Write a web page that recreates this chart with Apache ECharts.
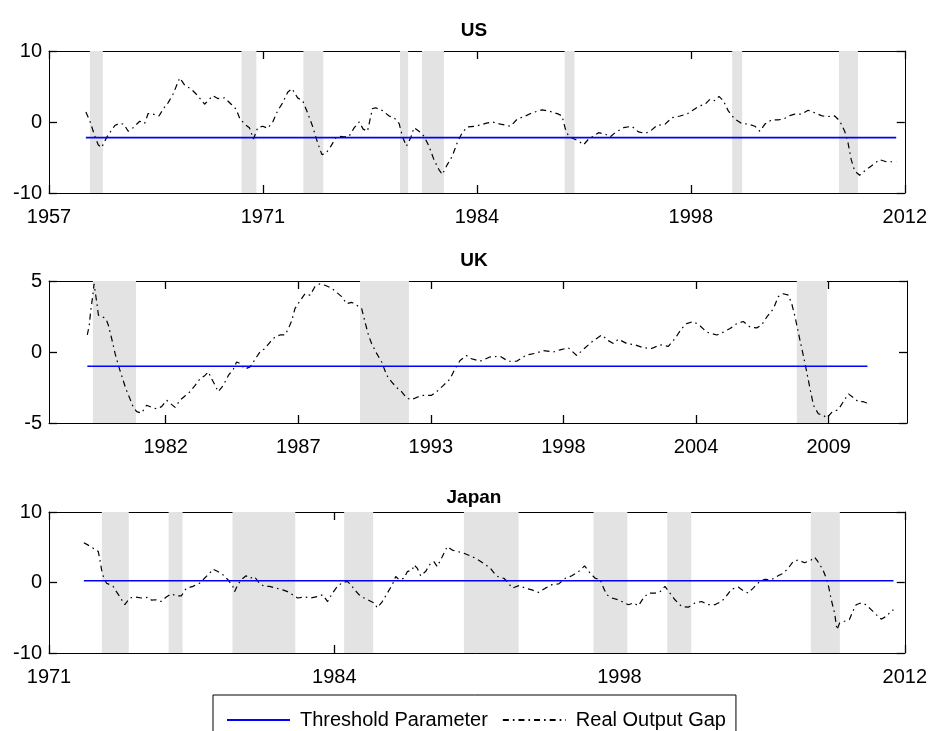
<!DOCTYPE html>
<html>
<head>
<meta charset="utf-8">
<script src="https://cdn.jsdelivr.net/npm/echarts@6/dist/echarts.min.js"></script>
<style>
  html, body { margin: 0; padding: 0; background: #fff; }
  #chart { width: 930px; height: 731px; }
</style>
</head>
<body>
<div id="chart"></div>
<script>
// ---- US ----
const usYears = [1959.37,1959.63,1959.95,1960.16,1960.38,1960.70,1960.91,1961.23,1961.51,1961.81,
  1962.09,1962.41,1962.83,1963.15,1963.37,1963.69,1964.07,1964.33,1964.65,1964.97,
  1965.40,1965.72,1966.15,1966.57,1967.00,1967.21,1967.53,1967.85,1968.28,1968.71,
  1969.03,1969.24,1969.56,1969.88,1970.14,1970.42,1970.74,1971.06,1971.38,1971.70,
  1972.02,1972.34,1972.62,1972.98,1973.30,1973.62,1973.94,1974.26,1974.54,1974.80,
  1975.12,1975.44,1975.65,1975.97,1976.29,1976.62,1976.94,1977.19,1977.47,1977.79,
  1978.00,1978.43,1978.86,1979.18,1979.50,1979.71,1979.97,1980.25,1980.46,1980.78,
  1981.10,1981.42,1981.74,1982.06,1982.28,1982.60,1982.92,1983.24,1983.56,1983.88,
  1984.42,1985.06,1985.49,1986.02,1986.66,1987.09,1987.62,1988.05,1988.69,1989.12,
  1989.76,1989.97,1990.19,1990.40,1990.72,1991.04,1991.36,1991.68,1992.00,1992.32,
  1992.75,1993.07,1993.39,1993.93,1994.46,1994.89,1995.32,1995.64,1996.06,1996.60,
  1997.03,1997.56,1997.99,1998.31,1998.74,1999.16,1999.48,1999.80,2000.06,2000.34,
  2000.66,2001.08,2001.51,2001.94,2002.37,2002.69,2003.01,2003.44,2003.86,2004.18,
  2004.61,2004.93,2005.36,2005.79,2006.32,2006.64,2006.96,2007.50,2007.82,2008.14,
  2008.35,2008.56,2008.78,2009.10,2009.42,2009.85,2010.38,2010.81,2011.45];
const usGap = [1.4,0.1,-2.0,-3.2,-3.6,-2.2,-1.5,-0.5,-0.2,-0.3,
  -1.3,-0.8,0.1,-0.2,1.2,1.1,0.85,1.8,2.7,3.9,
  6.2,5.2,4.6,3.7,2.5,3.0,3.7,3.3,3.4,2.5,
  1.8,0.6,-0.3,-0.8,-2.4,-0.8,-0.6,-0.9,0.0,1.6,
  2.7,4.2,4.7,3.4,3.0,1.3,-0.6,-2.9,-4.6,-4.4,
  -3.4,-2.2,-2.0,-2.1,-2.0,-0.8,0.0,-1.0,-1.3,1.9,
  2.0,1.6,0.85,0.6,-0.2,-2.0,-3.4,-2.2,-0.8,-1.3,
  -2.0,-3.4,-5.3,-6.7,-7.4,-6.0,-4.8,-2.9,-1.5,-0.7,
  -0.6,-0.2,0.0,-0.3,-0.6,0.4,0.85,1.3,1.7,1.55,
  1.1,0.85,-1.0,-2.0,-2.35,-2.7,-3.2,-2.4,-2.0,-1.5,
  -1.7,-2.1,-1.5,-0.8,-0.6,-1.4,-1.6,-1.3,-0.5,-0.3,
  0.6,0.85,1.1,1.55,2.2,2.5,3.2,3.0,3.6,3.0,
  1.55,0.4,-0.2,-0.3,-0.6,-1.3,-0.3,0.3,0.3,0.4,
  0.9,1.1,1.1,1.65,1.2,0.9,0.75,0.85,0.15,-1.3,
  -2.9,-5.3,-6.9,-7.5,-6.9,-6.2,-5.3,-5.6,-5.6];
const usThreshold = -2.2;
const usRecessions = [[1959.63,1960.46],[1969.37,1970.33],[1973.35,1974.63],[1979.56,1980.08],
  [1980.97,1982.38],[1990.14,1990.78],[2000.91,2001.55],[2007.77,2008.99]];
const usTickYears = [1957, 1970.75, 1984.5, 1998.25, 2012];
const usTickLabels = ['1957', '1971', '1984', '1998', '2012'];

// ---- UK ----
const ukYears = [1978.59,1978.67,1978.73,1978.81,1978.87,1978.98,1979.05,1979.18,1979.36,1979.46,
  1979.60,1979.74,1979.88,1980.01,1980.19,1980.36,1980.50,1980.64,1980.84,1981.05,
  1981.26,1981.47,1981.67,1981.88,1982.02,1982.23,1982.43,1982.64,1982.85,1983.06,
  1983.26,1983.47,1983.61,1983.75,1983.89,1984.02,1984.23,1984.44,1984.65,1984.78,
  1984.92,1985.13,1985.34,1985.48,1985.61,1985.75,1985.96,1986.17,1986.37,1986.58,
  1986.79,1986.93,1987.07,1987.20,1987.41,1987.62,1987.83,1988.03,1988.24,1988.45,
  1988.72,1988.93,1989.14,1989.35,1989.55,1989.76,1989.97,1990.11,1990.25,1990.38,
  1990.59,1990.80,1991.01,1991.21,1991.42,1991.63,1991.84,1992.04,1992.25,1992.53,
  1992.87,1993.08,1993.36,1993.63,1993.84,1994.05,1994.32,1994.47,1994.88,1995.29,
  1995.71,1996.05,1996.40,1996.82,1997.16,1997.51,1997.92,1998.20,1998.54,1998.89,
  1999.24,1999.58,1999.93,2000.20,2000.41,2000.62,2000.96,2001.31,2001.65,2002.00,
  2002.35,2002.69,2002.97,2003.24,2003.45,2003.73,2004.00,2004.28,2004.70,2004.97,
  2005.25,2005.53,2005.80,2006.08,2006.36,2006.56,2006.77,2007.05,2007.25,2007.46,
  2007.67,2007.81,2007.95,2008.08,2008.18,2008.29,2008.43,2008.57,2008.71,2008.91,
  2009.12,2009.26,2009.47,2009.74,2009.95,2010.16,2010.36,2010.57,2010.78,2010.95];
const ukGap = [1.2,1.9,2.9,3.9,4.8,3.5,2.6,2.5,2.35,1.9,
  0.95,-0.1,-0.95,-1.65,-2.6,-3.3,-3.9,-4.2,-4.3,-3.75,
  -3.9,-4.0,-3.85,-3.4,-3.6,-3.9,-3.4,-3.1,-2.8,-2.35,
  -1.9,-1.65,-1.4,-1.9,-2.35,-2.8,-2.35,-1.65,-1.2,-0.7,
  -0.8,-1.2,-1.05,-0.7,-0.35,0.0,0.25,0.7,1.05,1.2,
  1.2,1.65,2.2,3.05,3.6,4.1,4.0,4.6,4.8,4.7,
  4.5,4.2,3.9,3.4,3.5,3.3,3.05,2.1,1.2,0.6,
  -0.1,-0.7,-1.65,-2.1,-2.5,-2.8,-3.25,-3.35,-3.2,-3.05,
  -3.05,-2.8,-2.35,-1.9,-1.2,-0.6,-0.25,-0.45,-0.65,-0.35,
  -0.3,-0.65,-0.65,-0.2,-0.1,0.1,0.0,0.15,0.3,-0.25,
  0.3,0.8,1.2,0.8,0.6,0.9,0.6,0.5,0.3,0.25,
  0.5,0.4,0.95,1.65,2.0,2.15,1.85,1.4,1.2,1.4,
  1.65,2.0,2.15,1.75,1.7,1.9,2.45,3.05,3.9,4.1,
  4.0,3.4,2.45,1.4,0.6,-0.25,-1.4,-2.6,-3.75,-4.35,
  -4.45,-4.65,-4.25,-4.05,-3.5,-2.95,-3.2,-3.5,-3.5,-3.6];
const ukThreshold = -1.0;
const ukRecessions = [[1978.82,1980.61],[1989.90,1991.93],[2008.02,2009.27]];
const ukTickYears = [1981.84, 1987.34, 1992.84, 1998.34, 2003.84, 2009.34];
const ukTickLabels = ['1982', '1987', '1993', '1998', '2004', '2009'];

// ---- Japan ----
const jpYears = [1972.67,1972.88,1973.12,1973.36,1973.44,1973.52,1973.63,1973.76,1973.91,1974.07,
  1974.23,1974.39,1974.63,1974.87,1975.11,1975.43,1975.75,1975.91,1976.14,1976.38,
  1976.62,1976.86,1977.10,1977.34,1977.58,1977.90,1978.21,1978.45,1978.69,1978.85,
  1979.09,1979.33,1979.57,1979.81,1979.89,1980.05,1980.21,1980.44,1980.64,1980.84,
  1981.08,1981.32,1981.56,1981.88,1982.20,1982.43,1982.67,1982.91,1983.23,1983.55,
  1983.87,1984.11,1984.35,1984.58,1984.82,1985.06,1985.30,1985.46,1985.62,1985.86,
  1986.10,1986.34,1986.58,1986.73,1986.97,1987.21,1987.45,1987.61,1987.77,1988.01,
  1988.17,1988.41,1988.49,1988.65,1988.81,1989.04,1989.28,1989.44,1989.60,1989.84,
  1990.08,1990.32,1990.56,1990.88,1991.28,1991.52,1991.83,1992.15,1992.39,1992.55,
  1992.79,1992.95,1993.19,1993.51,1993.83,1994.14,1994.46,1994.78,1995.10,1995.42,
  1995.74,1996.05,1996.37,1996.66,1996.93,1997.17,1997.41,1997.57,1997.73,1997.97,
  1998.28,1998.52,1998.76,1999.00,1999.24,1999.48,1999.72,2000.04,2000.28,2000.51,
  2000.75,2000.99,2001.31,2001.63,2001.95,2002.27,2002.58,2002.90,2003.22,2003.46,
  2003.70,2004.02,2004.26,2004.50,2004.74,2005.05,2005.29,2005.61,2005.93,2006.17,
  2006.41,2006.65,2006.89,2007.20,2007.52,2007.68,2007.84,2008.08,2008.24,2008.35,
  2008.48,2008.64,2008.75,2008.88,2009.11,2009.35,2009.51,2009.67,2009.91,2010.15,
  2010.39,2010.63,2010.87,2011.11,2011.34,2011.46];
const jpGap = [5.65,5.3,4.85,4.4,3.2,1.8,0.6,-0.1,-0.3,-0.55,
  -1.3,-2.0,-3.15,-2.2,-2.05,-2.2,-2.1,-2.5,-2.45,-2.7,
  -2.05,-1.6,-1.9,-1.9,-0.8,-0.55,-0.1,0.6,1.3,1.9,
  1.55,1.1,0.4,-0.55,-1.3,-0.3,0.4,0.95,0.6,0.85,
  -0.1,-0.55,-0.55,-0.8,-1.05,-1.3,-1.75,-2.2,-2.05,-2.2,
  -2.0,-1.75,-2.7,-1.5,-0.55,0.0,0.15,-0.3,-0.95,-1.75,
  -2.2,-2.55,-2.9,-3.6,-2.7,-1.5,-0.3,0.85,0.4,0.6,
  1.55,1.8,2.5,2.0,0.95,1.55,2.7,2.95,2.25,3.65,
  5.1,4.6,4.4,4.15,3.65,3.3,2.7,2.0,1.1,0.75,
  0.6,0.15,-0.8,-0.45,-0.8,-1.05,-1.4,-0.8,-0.3,-0.2,
  0.6,0.95,1.55,2.35,1.3,0.6,0.4,-0.8,-1.75,-2.2,
  -2.45,-2.8,-3.15,-2.9,-3.3,-2.2,-1.5,-1.5,-1.3,-0.55,
  -1.5,-2.45,-3.4,-3.5,-2.9,-2.7,-3.15,-3.15,-2.7,-1.9,
  -0.95,-0.65,-1.15,-1.5,-0.8,0.15,0.45,0.4,0.95,1.3,
  2.0,2.95,3.2,2.8,3.2,3.6,2.95,1.8,0.6,-0.55,
  -2.45,-4.35,-6.7,-5.75,-5.5,-5.25,-4.1,-3.15,-2.9,-3.15,
  -3.85,-4.55,-5.2,-4.8,-4.1,-3.85];
const jpThreshold = 0.25;
const jpRecessions = [[1973.53,1974.82],[1976.73,1977.40],[1979.79,1982.80],[1985.14,1986.53],
  [1990.88,1993.50],[1997.09,1998.71],[2000.62,2001.77],[2007.50,2008.89]];
const jpTickYears = [1971, 1984.67, 1998.33, 2012];
const jpTickLabels = ['1971', '1984', '1998', '2012'];

const seriesNames = ['Threshold Parameter', 'Real Output Gap'];

// ---- layout ----
const FONT = '"Liberation Sans", Arial, Helvetica, sans-serif';
const panels = [
  { title: 'US', years: usYears, gap: usGap, threshold: usThreshold, recessions: usRecessions,
    xMin: 1957, xMax: 2012, ticks: usTickYears, tickLabels: usTickLabels,
    yMin: -10, yMax: 10, yInterval: 10, top: 51, height: 142, titleTop: 16 },
  { title: 'UK', years: ukYears, gap: ukGap, threshold: ukThreshold, recessions: ukRecessions,
    xMin: 1977, xMax: 2012.59, ticks: ukTickYears, tickLabels: ukTickLabels,
    yMin: -5, yMax: 5, yInterval: 5, top: 281, height: 142, titleTop: 246 },
  { title: 'Japan', years: jpYears, gap: jpGap, threshold: jpThreshold, recessions: jpRecessions,
    xMin: 1971, xMax: 2012, ticks: jpTickYears, tickLabels: jpTickLabels,
    yMin: -10, yMax: 10, yInterval: 10, top: 512, height: 141, titleTop: 483 }
];

function tickLabel(p, v) {
  let best = 0;
  p.ticks.forEach((t, k) => { if (Math.abs(t - v) < Math.abs(p.ticks[best] - v)) best = k; });
  return p.tickLabels[best];
}

const grids = [], xAxes = [], yAxes = [], series = [], titles = [];
const axisLine = { show: true, onZero: false, lineStyle: { color: '#000', width: 1 } };
const tickStyle = { color: '#000', width: 1.3 };

panels.forEach((p, i) => {
  grids.push({ left: 49, width: 858, top: p.top, height: p.height });
  ['bottom', 'top'].forEach(pos => {
    xAxes.push({
      type: 'value', gridIndex: i, position: pos, min: p.xMin, max: p.xMax,
      axisLine: axisLine,
      axisTick: { show: true, inside: true, length: 8, customValues: p.ticks, lineStyle: tickStyle },
      axisLabel: { show: pos === 'bottom', customValues: p.ticks, margin: 14, color: '#000',
        fontSize: 20, fontFamily: FONT, formatter: v => tickLabel(p, v) },
      splitLine: { show: false }
    });
  });
  ['left', 'right'].forEach(pos => {
    yAxes.push({
      type: 'value', gridIndex: i, position: pos, min: p.yMin, max: p.yMax, interval: p.yInterval,
      axisLine: axisLine,
      axisTick: { show: true, inside: true, length: 8, lineStyle: tickStyle },
      axisLabel: { show: pos === 'left', margin: 7, color: '#000', fontSize: 20, fontFamily: FONT,
        padding: [10, 0, 0, 0] },
      splitLine: { show: false }
    });
  });
  const xi = 2 * i, yi = 2 * i;
  // shaded recession periods
  series.push({
    type: 'line', xAxisIndex: xi, yAxisIndex: yi, data: [], silent: true, z: 1,
    markArea: { silent: true, itemStyle: { color: '#e3e3e3' },
      data: p.recessions.map(r => [{ xAxis: r[0] }, { xAxis: r[1] }]) }
  });
  series.push({
    type: 'line', name: seriesNames[1], xAxisIndex: xi, yAxisIndex: yi, z: 3,
    data: p.years.map((y, k) => [y, p.gap[k]]),
    symbol: 'none', silent: true, color: '#000',
    lineStyle: { color: '#000', width: 1.2, type: [6, 4, 1.6, 4] }
  });
  series.push({
    type: 'line', name: seriesNames[0], xAxisIndex: xi, yAxisIndex: yi, z: 4,
    data: [[p.years[0], p.threshold], [p.years[p.years.length - 1], p.threshold]],
    symbol: 'none', silent: true, color: '#0000ff',
    lineStyle: { color: '#0000ff', width: 1.6 }
  });
  titles.push({
    text: p.title, left: 469, top: p.titleTop, textAlign: 'center',
    textStyle: { fontSize: 19, fontWeight: 'bold', color: '#000', fontFamily: FONT }
  });
});

const chart = echarts.init(document.getElementById('chart'), null, { renderer: 'canvas' });
chart.setOption({
  animation: false,
  backgroundColor: '#fff',
  title: titles,
  grid: grids,
  xAxis: xAxes,
  yAxis: yAxes,
  legend: {
    data: seriesNames, left: 213, top: 695, orient: 'horizontal',
    backgroundColor: '#fff', borderColor: '#000', borderWidth: 1, borderRadius: 0,
    padding: [15, 10, 14, 13], itemWidth: 63, itemHeight: 14, itemGap: 14,
    itemStyle: { opacity: 0 }, selectedMode: false,
    textStyle: { color: '#000', fontSize: 20, fontFamily: FONT, padding: [0, 0, 0, 5] }
  },
  series: series
});
</script>
</body>
</html>
